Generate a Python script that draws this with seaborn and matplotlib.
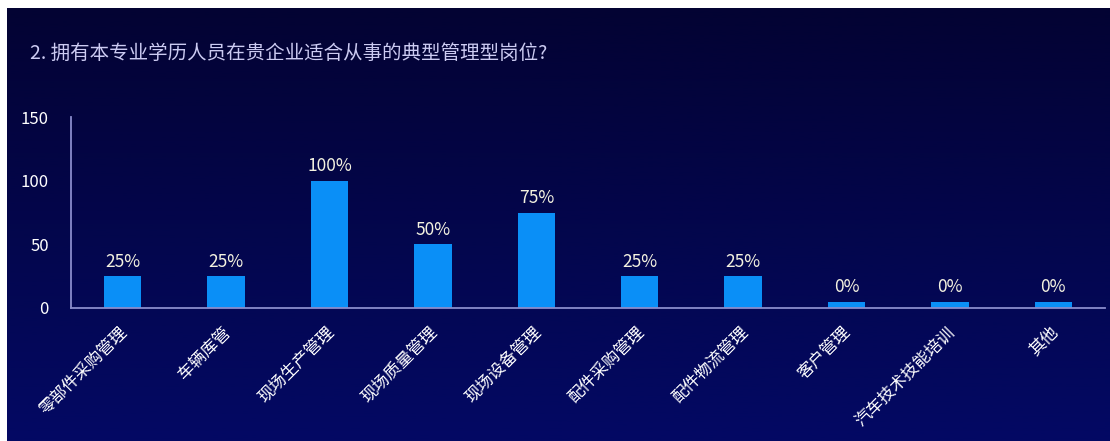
import numpy as np
import pandas as pd
import matplotlib
matplotlib.use('Agg')
import matplotlib.pyplot as plt
import matplotlib.transforms as mtransforms
from matplotlib.colors import LinearSegmentedColormap
import seaborn as sns

# 数据
categories = ['零部件采购管理', '车辆库管', '现场生产管理', '现场质量管理', '现场设备管理',
              '配件采购管理', '配件物流管理', '客户管理', '汽车技术技能培训', '其他']
values = [25, 25, 100, 50, 75, 25, 25, 0, 0, 0]
labels = [f'{v}%' for v in values]
min_height = 5  # 0% 的柱子也显示一小段

title = '2. 拥有本专业学历人员在贵企业适合从事的典型管理型岗位?'

sns.set_theme(style='white')
plt.rcParams['font.family'] = ['Noto Sans CJK SC', 'DejaVu Sans']

W, H = 1110, 441
fig = plt.figure(figsize=(W / 100, H / 100), dpi=100)
fig.patch.set_facecolor('white')

# 背景渐变
bg = fig.add_axes([7 / W, 0, 1 - 7 / W, 1 - 8 / H])
cmap = LinearSegmentedColormap.from_list('bg', ['#030333', '#030964'])
bg.imshow(np.linspace(0, 1, 256).reshape(-1, 1), aspect='auto', cmap=cmap,
          extent=[0, 1, 0, 1], origin='upper')
bg.set_axis_off()

ax = fig.add_axes([71 / W, 1 - 308 / H, (1105 - 71) / W, (308 - 117) / H])
ax.set_facecolor('none')

df = pd.DataFrame({'cat': categories, 'val': values})
df['h'] = df['val'].clip(lower=min_height)
sns.barplot(data=df, x='cat', y='h', color='#0a8ff7', saturation=1, width=0.36, ax=ax)
for p in ax.patches:
    p.set_edgecolor('none')

ax.set_ylim(0, 150)
ax.set_yticks([0, 50, 100, 150])
ax.set_xlim(-0.5, len(categories) - 0.5)
ax.set_xlabel('')
ax.set_ylabel('')

for i, (h, lab) in enumerate(zip(df['h'], labels)):
    ax.annotate(lab, (i, h), xytext=(0, 4), textcoords='offset points',
                ha='center', va='bottom', color='#f4f2e0', fontsize=12.5)

for s in ['top', 'right']:
    ax.spines[s].set_visible(False)
for s in ['left', 'bottom']:
    ax.spines[s].set_color('#8a8ccc')
    ax.spines[s].set_linewidth(1.3)

ax.tick_params(axis='y', colors='white', labelsize=12, length=0, pad=16)
ax.tick_params(axis='x', colors='white', labelsize=12, length=0, pad=4)
ax.set_xticks(range(len(categories)))
ax.set_xticklabels(categories, rotation=45, ha='right', rotation_mode='anchor')
shift = mtransforms.ScaledTranslation(-4 / 100, -10 / 100, fig.dpi_scale_trans)
for t in ax.get_xticklabels():
    t.set_transform(t.get_transform() + shift)

fig.text(30 / W, 1 - 53 / H, title, color='#cccbf2', fontsize=14, va='center', ha='left')

fig.savefig('out.png', dpi=100)
